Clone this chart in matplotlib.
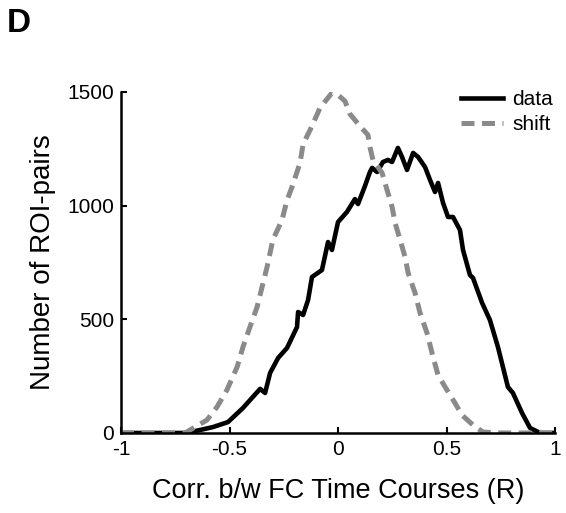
import matplotlib.pyplot as plt

plt.rcParams['font.family'] = ['Liberation Sans', 'DejaVu Sans']

# "data" curve (solid black)
data_x = [-1.0, -0.9, -0.8, -0.7, -0.636, -0.576, -0.507, -0.438, -0.359, -0.336, -0.313,
          -0.276, -0.235, -0.189, -0.184, -0.161, -0.138, -0.120, -0.074, -0.046, -0.028,
          0.000, 0.041, 0.078, 0.092, 0.124, 0.147, 0.157, 0.180, 0.207, 0.230, 0.249,
          0.276, 0.295, 0.318, 0.346, 0.369, 0.401, 0.424, 0.447, 0.461, 0.484, 0.507,
          0.530, 0.562, 0.576, 0.608, 0.622, 0.664, 0.700, 0.737, 0.783, 0.806, 0.848,
          0.885, 0.931, 0.97, 1.0]
data_y = [0, 0, 0, 0, 13, 26, 48, 110, 194, 176, 264,
          330, 374, 466, 532, 519, 585, 686, 717, 840, 805,
          928, 972, 1029, 1007, 1086, 1148, 1166, 1148, 1192, 1201, 1192,
          1254, 1214, 1157, 1232, 1214, 1170, 1113, 1060, 1100, 1012, 950,
          950, 893, 805, 695, 682, 572, 497, 378, 202, 176, 88,
          22, 0, 0, 0]

# "shift" curve (dashed grey)
shift_x = [-1.0, -0.9, -0.8, -0.705, -0.604, -0.558, -0.512, -0.465, -0.438, -0.406, -0.373,
           -0.350, -0.327, -0.300, -0.258, -0.235, -0.212, -0.175, -0.161, -0.120, -0.083,
           -0.028, -0.005, 0.032, 0.055, 0.101, 0.138, 0.147, 0.161, 0.203, 0.226, 0.249,
           0.263, 0.286, 0.309, 0.323, 0.355, 0.378, 0.410, 0.438, 0.461, 0.502, 0.539,
           0.571, 0.622, 0.668, 0.75, 0.85, 0.95, 1.0]
shift_y = [0, 0, 0, 0, 57, 114, 189, 290, 378, 466, 554,
           642, 730, 850, 937, 1024, 1082, 1188, 1270, 1350, 1430,
           1496, 1491, 1460, 1403, 1350, 1311, 1258, 1201, 1144, 1069, 995,
           924, 850, 774, 704, 616, 528, 440, 334, 255, 189, 132,
           79, 35, 4, 0, 0, 0, 0]

xticks = [-1, -0.5, 0, 0.5, 1]
xticklabels = ['-1', '-0.5', '0', '0.5', '1']
yticks = [0, 500, 1000, 1500]

fig = plt.figure(figsize=(5.66, 5.13), dpi=100)
ax = fig.add_axes([0.2138, 0.156, 0.7668, 0.6647])

ax.plot(data_x, data_y, color='black', lw=3.3, label='data', solid_joinstyle='round')
ax.plot(shift_x, shift_y, color='#8a8a8a', lw=3.6, dashes=(2.6, 1.5), label='shift')

ax.set_xlim(-1, 1)
ax.set_ylim(0, 1500)
ax.set_xticks(xticks)
ax.set_xticklabels(xticklabels)
ax.set_yticks(yticks)
ax.spines['top'].set_visible(False)
ax.spines['right'].set_visible(False)
ax.spines['left'].set_linewidth(1.8)
ax.spines['bottom'].set_linewidth(1.8)
ax.tick_params(direction='in', length=4, width=1.5, labelsize=15, pad=5)

ax.set_xlabel('Corr. b/w FC Time Courses (R)', fontsize=19.5, labelpad=14)
ax.set_ylabel('Number of ROI-pairs', fontsize=20, labelpad=8)

ax.legend(loc='upper right', frameon=False, fontsize=15, handlelength=2.0,
          handletextpad=0.45, borderaxespad=0.0, labelspacing=0.3,
          bbox_to_anchor=(1.015, 1.03))

fig.text(0.012, 0.985, 'D', fontsize=24, fontweight='bold', va='top', ha='left')

fig.savefig('out.png', dpi=100)
